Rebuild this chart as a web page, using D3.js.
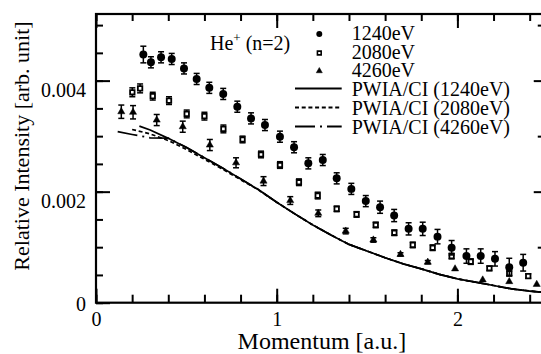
<!DOCTYPE html>
<html>
<head>
<meta charset="utf-8">
<script src="https://cdn.jsdelivr.net/npm/d3@7"></script>
<style>
body { margin: 0; background: #fff; }
svg text { font-family: "Liberation Serif", "Times New Roman", serif !important; fill: #000; }
</style>
</head>
<body>
<div id="chart"></div>
<script>
const width = 541;
const height = 354;
const serif = '"Liberation Serif", "Times New Roman", serif';

// 1240eV (filled circles)
const mom1240 = [0.262, 0.304, 0.36, 0.419, 0.487, 0.557, 0.627, 0.704, 0.782, 0.858, 0.935, 1.018, 1.096, 1.175, 1.255,
    1.332, 1.413, 1.493, 1.572, 1.65, 1.73, 1.808, 1.89, 1.968, 2.05, 2.129, 2.208, 2.287, 2.364];
const int1240 = [0.00447, 0.00433, 0.00442, 0.00439, 0.00422, 0.00403, 0.00387, 0.00376, 0.00353, 0.00332, 0.00320, 0.00299,
    0.00280, 0.00251, 0.00257, 0.00224, 0.00205, 0.00183, 0.00172, 0.00157, 0.00133, 0.00133, 0.00119, 0.00099, 0.00084,
    0.00084, 0.00079, 0.00064, 0.00072];
const err1240 = [0.00015, 0.0001, 0.0001, 0.0001, 0.0001, 0.0001, 0.0001, 0.0001, 0.0001, 0.0001, 0.0001, 0.0001, 0.0001,
    0.0001, 0.0001, 0.0001, 0.0001, 0.0001, 0.00011, 0.00011, 0.00011, 0.00012, 0.00013, 0.00013, 0.00013, 0.00013,
    0.00013, 0.00016, 0.00015];

// 2080eV (open squares)
const mom2080 = [0.201, 0.244, 0.314, 0.404, 0.502, 0.600, 0.705, 0.811, 0.913, 1.018, 1.123, 1.227, 1.332, 1.442, 1.548,
    1.651, 1.753, 1.863, 1.968, 2.074, 2.177, 2.287, 2.392];
const int2080 = [0.00379, 0.00386, 0.00372, 0.00364, 0.00340, 0.00336, 0.00313, 0.00294, 0.00267, 0.00248, 0.00217, 0.00193,
    0.00169, 0.00159, 0.00140, 0.00126, 0.00104, 0.00099, 0.00084, 0.00074, 0.00062, 0.00053, 0.00048];
const err2080 = [0.00008, 0.00008, 0.00007, 0.00007, 0.00007, 0.00007, 0.00007, 0.00006, 0.00006, 0.00006, 0.00006, 0.00006,
    0.00005, 0.00005, 0.00005, 0.00005, 0.00005, 0.00005, 0.00005, 0.00005, 0.00004, 0.00004, 0.00004];

// 4260eV (triangles)
const mom4260 = [0.140, 0.205, 0.336, 0.480, 0.630, 0.775, 0.927, 1.075, 1.230, 1.382, 1.535, 1.685, 1.836, 1.987, 2.140,
    2.287, 2.439];
const int4260 = [0.00344, 0.00343, 0.00329, 0.00317, 0.00284, 0.00252, 0.00219, 0.00184, 0.00161, 0.00129, 0.00113, 0.00087,
    0.00073, 0.00061, 0.00041, 0.00038, 0.00033];
const err4260 = [0.00012, 0.00012, 0.0001, 0.0001, 0.0001, 0.00009, 0.00008, 0.00007, 0.00006, 0.00005, 0.00004, 0.00003,
    0.00003, 0, 0, 0, 0];

// PWIA/CI curves
const momCalc = [0.4, 0.5, 0.6, 0.7, 0.8, 0.9, 1.0, 1.1, 1.2, 1.3, 1.4, 1.5, 1.6, 1.7, 1.8, 1.9, 2.0, 2.1, 2.2, 2.3, 2.4, 2.5];
const calcTail = [0.00293, 0.00277, 0.00259, 0.00241, 0.00222, 0.00203, 0.00181, 0.00160, 0.00140, 0.00122, 0.00105,
    0.00093, 0.00081, 0.00070, 0.00061, 0.00051, 0.00043, 0.00037, 0.00031, 0.00025, 0.00021, 0.00018];
const calc1240Head = [[0.24, 0.00318], [0.3, 0.00311]];
const calc2080Head = [[0.2, 0.00312], [0.3, 0.00304]];
const calc4260Head = [[0.12, 0.00308], [0.2, 0.00303], [0.3, 0.00297]];

const xTicksMajor = [0, 1, 2];
const yTicksMajor = [0, 0.002, 0.004];
const legendLabels = ['1240eV', '2080eV', '4260eV', 'PWIA/CI (1240eV)', 'PWIA/CI (2080eV)', 'PWIA/CI (4260eV)'];

const x = d3.scaleLinear().domain([0, 2.5]).range([96, 547.75]);
const y = d3.scaleLinear().domain([0, 0.0052]).range([302.7, 14]);

const svg = d3.select('#chart').append('svg').attr('width', width).attr('height', height);

function zip(ms, vs, es) {
    return ms.map((m, i) => ({ m: m, v: vs[i], e: es ? es[i] : 0 }));
}
const s1240 = zip(mom1240, int1240, err1240);
const s2080 = zip(mom2080, int2080, err2080);
const s4260 = zip(mom4260, int4260, err4260);

function curve(head, offset) {
    return head.concat(momCalc.map((m, i) => [m, calcTail[i] + (i < 6 ? offset * (6 - i) / 6 : 0)]));
}

// axes
function styleAxis(g) {
    g.attr('font-family', null).attr('font-size', null);
    g.select('.domain').remove();
    g.selectAll('line').attr('stroke', '#000').attr('stroke-width', 2);
    g.selectAll('text').style('font-size', '20px').style('font-family', serif);
}

svg.append('g').attr('transform', `translate(0,${y(0)})`)
    .call(d3.axisBottom(x).tickValues(d3.range(0, 2.51, 0.2)).tickSize(-8).tickFormat(''))
    .call(styleAxis);
svg.append('g').attr('transform', `translate(0,${y(0)})`)
    .call(d3.axisBottom(x).tickValues(xTicksMajor).tickSize(-14).tickPadding(9).tickFormat(d3.format('d')))
    .call(styleAxis);
svg.append('g').attr('transform', `translate(0,${y(0.0052)})`)
    .call(d3.axisTop(x).tickValues(d3.range(0, 2.51, 0.2)).tickSize(-7).tickFormat(''))
    .call(styleAxis);
svg.append('g').attr('transform', `translate(0,${y(0.0052)})`)
    .call(d3.axisTop(x).tickValues(xTicksMajor).tickSize(-14).tickFormat(''))
    .call(styleAxis);

svg.append('g').attr('transform', `translate(${x(0)},0)`)
    .call(d3.axisLeft(y).tickValues(d3.range(0, 0.00521, 0.0005)).tickSize(-7).tickFormat(''))
    .call(styleAxis);
svg.append('g').attr('transform', `translate(${x(0)},0)`)
    .call(d3.axisLeft(y).tickValues(yTicksMajor).tickSize(-14).tickPadding(10).tickFormat(d => d === 0 ? '0' : d3.format('.3f')(d)))
    .call(styleAxis)
    .call(g => g.selectAll('text').attr('y', d => d ? 9 : 1.5));

svg.append('g').attr('transform', `translate(${x(2.5)},0)`)
    .call(d3.axisLeft(y).tickValues([0.001, 0.003, 0.005]).tickSize(10).tickFormat(''))
    .call(styleAxis);
svg.append('g').attr('transform', `translate(${x(2.5)},0)`)
    .call(d3.axisLeft(y).tickValues([0.002, 0.004]).tickSize(14).tickFormat(''))
    .call(styleAxis);

svg.append('rect')
    .attr('x', x(0)).attr('y', y(0.0052))
    .attr('width', x(2.5) - x(0)).attr('height', y(0) - y(0.0052))
    .attr('fill', 'none').attr('stroke', '#000').attr('stroke-width', 2.2);

// titles
svg.append('text')
    .attr('x', (x(0) + x(2.5)) / 2).attr('y', 349)
    .attr('text-anchor', 'middle')
    .style('font-size', '24px').style('font-family', serif)
    .text('Momentum [a.u.]');
svg.append('text')
    .attr('transform', 'translate(29,146) rotate(-90)')
    .attr('text-anchor', 'middle')
    .style('font-size', '22px').style('font-family', serif)
    .text('Relative Intensity [arb. unit]');

const he = svg.append('text').attr('x', 210).attr('y', 50)
    .style('font-size', '20px').style('font-family', serif);
he.append('tspan').text('He');
he.append('tspan').style('font-size', '13px').attr('dy', -8).text('+');
he.append('tspan').attr('dy', 8).text(' (n=2)');

// calculated curves
const line = d3.line().x(d => x(d[0])).y(d => y(d[1]));
const curves = [
    { pts: curve(calc4260Head, 0.000035), dash: '20,5,2,5' },
    { pts: curve(calc2080Head, -0.00001), dash: '4,2.7' },
    { pts: curve(calc1240Head, 0.00003), dash: null }
];
svg.selectAll('path.calc')
    .data(curves)
    .join('path')
    .attr('class', 'calc')
    .attr('d', d => line(d.pts))
    .attr('fill', 'none')
    .attr('stroke', '#000')
    .attr('stroke-width', 1.7)
    .attr('stroke-dasharray', d => d.dash);

// error bars + markers
function drawSeries(data, symbolType, size, fill, strokeW) {
    const g = svg.append('g');
    const bars = g.selectAll('g.bar').data(data.filter(d => d.e > 0)).join('g').attr('class', 'bar');
    bars.append('line')
        .attr('x1', d => x(d.m)).attr('x2', d => x(d.m))
        .attr('y1', d => y(d.v - d.e)).attr('y2', d => y(d.v + d.e));
    bars.append('line')
        .attr('x1', d => x(d.m) - 3).attr('x2', d => x(d.m) + 3)
        .attr('y1', d => y(d.v - d.e)).attr('y2', d => y(d.v - d.e));
    bars.append('line')
        .attr('x1', d => x(d.m) - 3).attr('x2', d => x(d.m) + 3)
        .attr('y1', d => y(d.v + d.e)).attr('y2', d => y(d.v + d.e));
    bars.selectAll('line').attr('stroke', '#000').attr('stroke-width', 1.5);
    g.selectAll('path').data(data).join('path')
        .attr('transform', d => `translate(${x(d.m)},${y(d.v)})`)
        .attr('d', d3.symbol().type(symbolType).size(size))
        .attr('fill', fill)
        .attr('stroke', '#000')
        .attr('stroke-width', strokeW);
}
drawSeries(s4260, d3.symbolTriangle, 22, '#000', 0.5);
drawSeries(s2080, d3.symbolSquare, 20, '#fff', 1.8);
drawSeries(s1240, d3.symbolCircle, 50, '#000', 0);

// legend
const legendBase = [40, 59, 77, 96, 115, 134];
const legendSym = [
    { type: d3.symbolCircle, size: 28, fill: '#000', sw: 0 },
    { type: d3.symbolSquare, size: 14, fill: '#fff', sw: 1.6 },
    { type: d3.symbolTriangle, size: 16, fill: '#000', sw: 0.5 }
];
const legend = svg.append('g');
legend.selectAll('text').data(legendLabels).join('text')
    .attr('x', 351.7).attr('y', (d, i) => legendBase[i])
    .style('font-size', '20px').style('font-family', serif)
    .text(d => d);
legend.selectAll('path.sym').data(legendSym).join('path')
    .attr('class', 'sym')
    .attr('transform', (d, i) => `translate(319.3,${legendBase[i] - 6})`)
    .attr('d', d => d3.symbol().type(d.type).size(d.size)())
    .attr('fill', d => d.fill)
    .attr('stroke', '#000')
    .attr('stroke-width', d => d.sw);
legend.selectAll('line').data(curves.slice().reverse()).join('line')
    .attr('x1', 295).attr('x2', 341.7)
    .attr('y1', (d, i) => legendBase[i + 3] - 7.5).attr('y2', (d, i) => legendBase[i + 3] - 7.5)
    .attr('stroke', '#000')
    .attr('stroke-width', 1.8)
    .attr('stroke-dasharray', d => d.dash);
</script>
</body>
</html>
